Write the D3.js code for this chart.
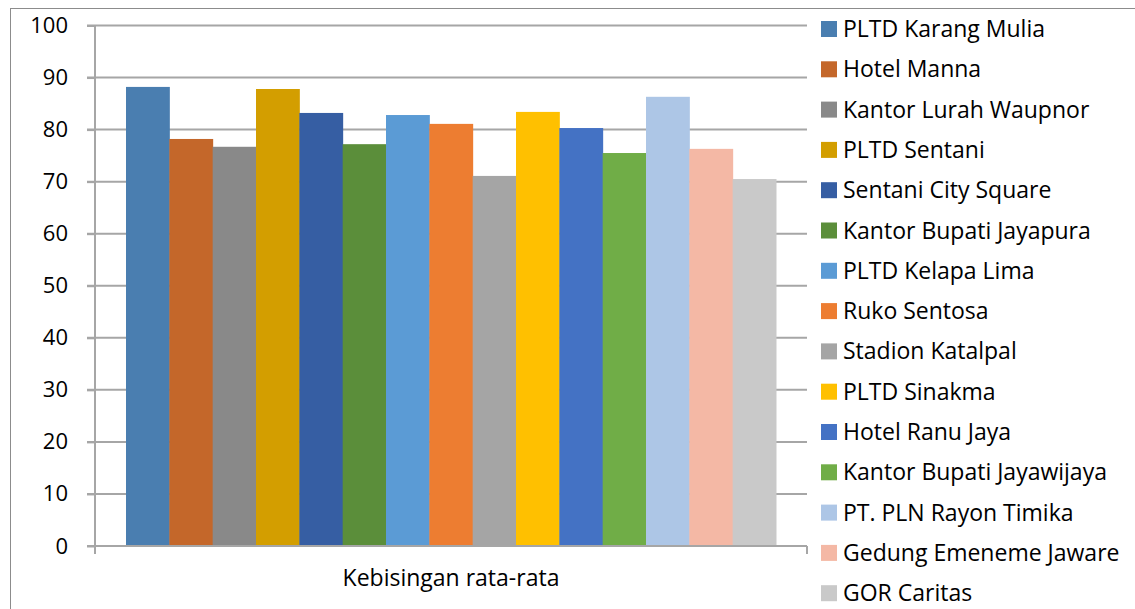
<!DOCTYPE html>
<html>
<head>
<meta charset="utf-8">
<script src="https://cdn.jsdelivr.net/npm/d3@7"></script>
<style>
  html, body { margin: 0; padding: 0; background: #fff; }
  svg { display: block; }
  text { font-family: "Open Sans", sans-serif; fill: #000; }
</style>
</head>
<body>
<svg id="chart" width="1135" height="609"></svg>
<script>
// Average noise level per measurement site
const sites = [
  "PLTD Karang Mulia", "Hotel Manna", "Kantor Lurah Waupnor", "PLTD Sentani",
  "Sentani City Square", "Kantor Bupati Jayapura", "PLTD Kelapa Lima", "Ruko Sentosa",
  "Stadion Katalpal", "PLTD Sinakma", "Hotel Ranu Jaya", "Kantor Bupati Jayawijaya",
  "PT. PLN Rayon Timika", "Gedung Emeneme Jaware", "GOR Caritas"
];
const values = [88.2, 78.2, 76.7, 87.8, 83.2, 77.2, 82.8, 81.1, 71.1, 83.4, 80.3, 75.5, 86.3, 76.3, 70.5];
const colors = [
  "#4a7eb0", "#c4672a", "#898989", "#d39e00", "#365ea3", "#5b8e3a", "#5b9bd5", "#ed7d31",
  "#a5a5a5", "#ffc000", "#4472c4", "#70ad47", "#adc6e6", "#f4b8a5", "#c9c9c9"
];
const category = ["Kebisingan rata-rata"];
const yTicks = [0, 10, 20, 30, 40, 50, 60, 70, 80, 90, 100];

const svg = d3.select("#chart");
const plot = { left: 95, right: 807, top: 25.5, bottom: 546 };

// outer frame
svg.append("rect")
  .attr("x", 10.5).attr("y", 8.5)
  .attr("width", 1140).attr("height", 620)
  .attr("fill", "none").attr("stroke", "#8c8c8c").attr("stroke-width", 1);

const y = d3.scaleLinear().domain([0, 100]).range([plot.bottom, plot.top]);
const x0 = d3.scaleBand().domain(category).range([plot.left, plot.right]).paddingInner(0).paddingOuter(0.0477);
const x1 = d3.scaleBand().domain(sites).range([0, x0.bandwidth()]);

// gridlines
svg.append("g").selectAll("line")
  .data(yTicks.filter(d => d > 0))
  .join("line")
  .attr("x1", plot.left - 8).attr("x2", plot.right)
  .attr("y1", d => y(d)).attr("y2", d => y(d))
  .attr("stroke", "#a6a6a6").attr("stroke-width", 2);

// bars
const g = svg.append("g").attr("transform", `translate(${x0(category[0])},0)`);
g.selectAll("rect")
  .data(values)
  .join("rect")
  .attr("x", (d, i) => x1(sites[i]))
  .attr("width", x1.bandwidth() + 0.5)
  .attr("y", d => y(d))
  .attr("height", d => y(0) - y(d))
  .attr("fill", (d, i) => colors[i]);

// y axis
const yAxis = d3.axisLeft(y).tickValues(yTicks).tickSize(8).tickPadding(19).tickFormat(d3.format("d"));
const ya = svg.append("g").attr("transform", `translate(${plot.left},0)`).call(yAxis);
ya.select(".domain").attr("stroke", "#a6a6a6").attr("stroke-width", 2).attr("d", `M0,${plot.top}V${plot.bottom + 8}`);
ya.selectAll(".tick line").attr("stroke", "#a6a6a6").attr("stroke-width", 2);
ya.selectAll(".tick text").style("font-family", "'Open Sans', sans-serif").style("font-size", "22px").attr("fill", "#000");

// x axis
const xAxis = d3.axisBottom(x0).tickSize(0).tickPadding(24);
const xa = svg.append("g").attr("transform", `translate(0,${plot.bottom})`).call(xAxis);
xa.select(".domain").attr("stroke", "#a6a6a6").attr("stroke-width", 2).attr("d", `M${plot.left - 8},0H${plot.right}`);
xa.selectAll(".tick text").style("font-family", "'Open Sans', sans-serif").style("font-size", "23px").attr("fill", "#000");
svg.append("g").selectAll("line").data([plot.left, plot.right]).join("line")
  .attr("x1", d => d).attr("x2", d => d)
  .attr("y1", plot.bottom).attr("y2", plot.bottom + 8)
  .attr("stroke", "#a6a6a6").attr("stroke-width", 2);

// legend
const legend = svg.append("g").attr("transform", "translate(821,29)");
const rows = legend.selectAll("g").data(sites).join("g")
  .attr("transform", (d, i) => `translate(0,${i * 40.3})`);
rows.append("rect").attr("x", 0).attr("y", -8).attr("width", 16).attr("height", 16)
  .attr("fill", (d, i) => colors[i]);
rows.append("text").attr("x", 22).attr("y", 0).attr("dy", "0.35em")
  .style("font-size", "23px").text(d => d);
</script>
</body>
</html>
